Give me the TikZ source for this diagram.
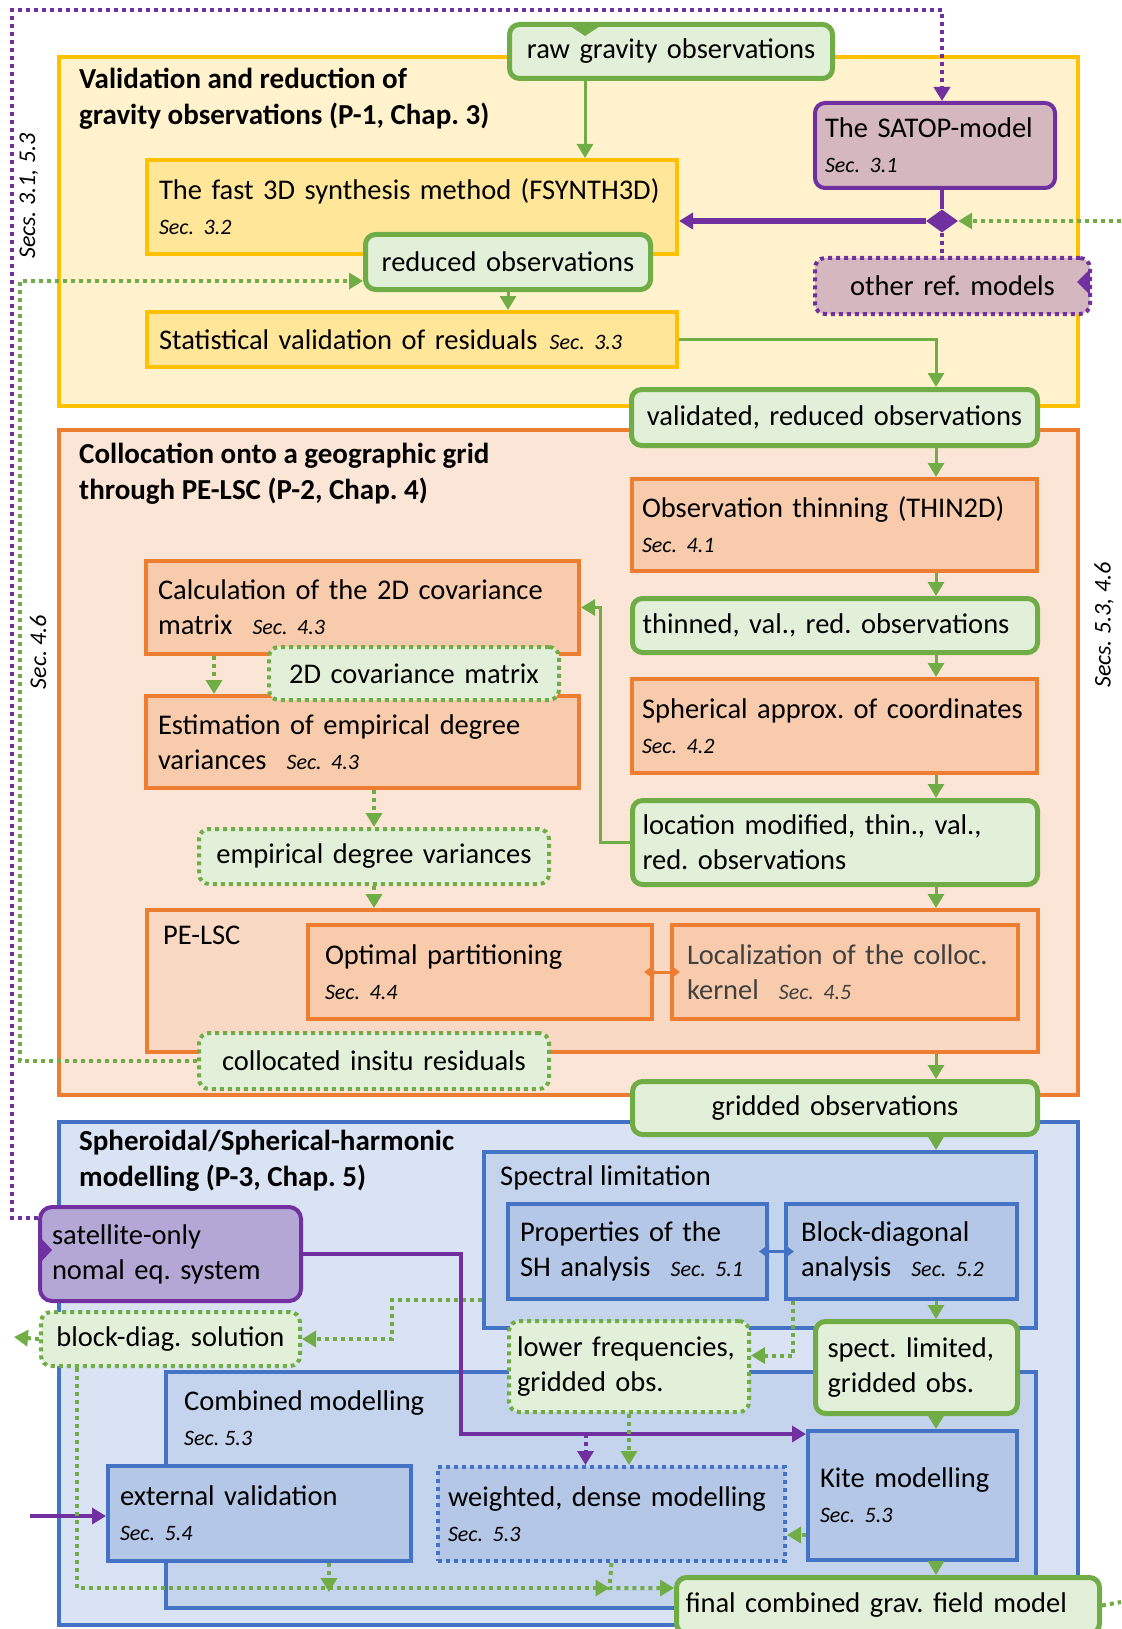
\documentclass[tikz,border=0pt]{standalone}
\usepackage{fontspec}
\setmainfont{Carlito}
\usetikzlibrary{arrows.meta,positioning,shapes.geometric}

\definecolor{grn}{HTML}{70AD47}
\definecolor{grnfill}{HTML}{E2F0D9}
\definecolor{ylw}{HTML}{FFC000}
\definecolor{ylwfill}{HTML}{FFF2CC}
\definecolor{ylwin}{HTML}{FFE699}
\definecolor{org}{HTML}{ED7D31}
\definecolor{orgfill}{HTML}{FBE5D6}
\definecolor{orgmid}{HTML}{F9D9C3}
\definecolor{orgin}{HTML}{F8CBAD}
\definecolor{blu}{HTML}{4472C4}
\definecolor{blufill}{HTML}{DAE3F3}
\definecolor{blumid}{HTML}{C5D4ED}
\definecolor{bluin}{HTML}{B4C7E7}
\definecolor{purp}{HTML}{7030A0}
\definecolor{mauve}{HTML}{D5B7C0}
\definecolor{lav}{HTML}{B4A7D6}
\definecolor{darkgr}{HTML}{404040}

\newcommand{\secnum}[1]{{\fontsize{22}{35}\selectfont\itshape #1}}
\newcommand{\gap}{\hspace{20pt}}

\begin{document}
\frenchspacing
\begin{tikzpicture}[x=1pt, y=-1pt, >={Triangle[width=16pt,length=14pt]},
    font=\fontsize{28.5}{35}\selectfont,
    box/.style={rectangle, draw, line width=4pt, anchor=north west, align=left, inner xsep=12pt, inner ysep=0pt},
    ctr/.style={align=center},
    ybox/.style={box, draw=ylw, fill=ylwin},
    obox/.style={box, draw=org, fill=orgin},
    bbox/.style={box, draw=blu, fill=bluin},
    obs/.style={box, rounded corners=10pt, draw=grn, fill=grnfill, line width=5pt},
    obsdot/.style={obs, line width=4pt, dash pattern=on 4pt off 4pt},
    ref/.style={box, rounded corners=10pt, draw=purp, fill=mauve},
    title/.style={anchor=west, align=left, inner sep=0pt, font=\fontsize{29}{36}\selectfont\bfseries},
    lbl/.style={anchor=west, align=left, inner sep=0pt},
    side/.style={inner sep=0pt, rotate=90, font=\fontsize{24}{24}\selectfont\itshape},
    garr/.style={->, draw=grn, line width=3pt},
    gdot/.style={draw=grn, line width=4pt, dash pattern=on 4pt off 4pt},
    parr/.style={->, draw=purp, line width=4pt},
    pdot/.style={draw=purp, line width=4pt, dash pattern=on 4pt off 4pt},
    both/.style={{Triangle[width=14pt,length=10pt]}-{Triangle[width=14pt,length=10pt]}, line width=3pt}]

    \useasboundingbox (0,0) rectangle (1121,1629);

    % the three parts
    \node[box, draw=ylw, fill=ylwfill, minimum width=1019pt, minimum height=349pt] (valid)   at (57,55)   {};
    \node[box, draw=org, fill=orgfill, minimum width=1019pt, minimum height=665pt] (colloc)  at (57,428)  {};
    \node[box, draw=blu, fill=blufill, minimum width=1019pt, minimum height=503pt] (shmodel) at (57,1120) {};

    \node[title] (tvalid)   at (79,99)   {Validation and reduction of\\gravity observations (P-1, Chap. 3)};
    \node[title] (tcolloc)  at (79,474)  {Collocation onto a geographic grid\\through PE-LSC (P-2, Chap. 4)};
    \node[title] (tshmodel) at (79,1161) {Spheroidal/Spherical-harmonic\\modelling (P-3, Chap. 5)};

    \node[side] (secsA) at (29,196)   {Secs. 3.1, 5.3};
    \node[side] (secsB) at (38,652)   {Sec. 4.6};
    \node[side] (secsC) at (1104,625) {Secs. 5.3, 4.6};

    % sub-groups
    \node[box, draw=org, fill=orgmid, minimum width=891pt, minimum height=142pt] (pelsc)    at (145,908)  {};
    \node[lbl] (pelsclbl) at (163,935) {PE-LSC};
    \node[box, draw=blu, fill=blumid, minimum width=552pt, minimum height=176pt] (spectral) at (482,1150) {};
    \node[lbl] (spectrallbl) at (500,1178) {Spectral limitation};
    \node[box, draw=blu, fill=blumid, minimum width=870pt, minimum height=236pt] (combined) at (164,1370) {};
    \node[lbl] (combinedlbl) at (184,1418) {Combined modelling\\\secnum{Sec. 5.3}};

    % P-1
    \node[obs, ctr, minimum width=323pt, minimum height=54pt, text width=299pt] (raw) at (507,22) {raw gravity observations};
    \node[ref, inner xsep=10pt, minimum width=240pt, minimum height=85pt, text width=220pt] (satop) at (813,101) {The SATOP-model\\\secnum{Sec. 3.1}};
    \node[ybox, minimum width=530pt, minimum height=94pt, text width=506pt] (fsynth) at (145,158) {The fast 3D synthesis method (FSYNTH3D)\\\secnum{Sec. 3.2}};
    \node[obs, ctr, minimum width=285pt, minimum height=55pt, text width=261pt] (reduced) at (363,232) {reduced observations};
    \node[ybox, minimum width=530pt, minimum height=55pt, text width=506pt] (stat) at (145,310) {Statistical validation of residuals\hspace{12pt}\secnum{Sec. 3.3}};
    \node[ref, ctr, dash pattern=on 4pt off 4pt, minimum width=275pt, minimum height=56pt, text width=251pt] (otherref) at (813,256) {other ref. models};
    \node[diamond, fill=purp, minimum width=32pt, minimum height=23pt, inner sep=0pt] (diam) at (942,221) {};
    \node[obs, ctr, inner xsep=10pt, minimum width=406pt, minimum height=56pt, text width=386pt] (validated) at (629,387) {validated, reduced observations};

    % P-2
    \node[obox, inner xsep=10pt, minimum width=405pt, minimum height=92pt, text width=385pt] (thinning) at (630,477) {Observation thinning (THIN2D)\\\secnum{Sec. 4.1}};
    \node[obs, inner xsep=10pt, minimum width=405pt, minimum height=54pt, text width=385pt] (thinned) at (630,596) {thinned, val., red. observations};
    \node[obox, inner xsep=10pt, minimum width=405pt, minimum height=94pt, text width=385pt] (spherical) at (630,677) {Spherical approx. of coordinates\\\secnum{Sec. 4.2}};
    \node[obs, inner xsep=10pt, minimum width=405pt, minimum height=84pt, text width=385pt] (location) at (630,798) {location modified, thin., val.,\\red. observations};
    \node[obox, minimum width=433pt, minimum height=93pt, text width=409pt] (calc) at (144,559) {Calculation of the 2D covariance\\matrix\gap\secnum{Sec. 4.3}};
    \node[obox, minimum width=433pt, minimum height=92pt, text width=409pt] (estim) at (144,694) {Estimation of empirical degree\\variances\gap\secnum{Sec. 4.3}};
    \node[obsdot, ctr, minimum width=290pt, minimum height=53pt, text width=266pt] (covmat) at (267,645) {2D covariance matrix};
    \node[obsdot, ctr, minimum width=350pt, minimum height=55pt, text width=326pt] (empirical) at (197,827) {empirical degree variances};
    \node[obox, inner xsep=17pt, minimum width=344pt, minimum height=94pt, text width=310pt] (optpart) at (306,923) {Optimal partitioning\\\secnum{Sec. 4.4}};
    \node[obox, inner xsep=15pt, text=darkgr, minimum width=346pt, minimum height=94pt, text width=316pt] (localiz) at (670,923) {Localization of the colloc.\\kernel\gap\secnum{Sec. 4.5}};
    \node[obsdot, ctr, minimum width=350pt, minimum height=56pt, text width=326pt] (collocated) at (197,1031) {collocated insitu residuals};
    \node[obs, ctr, minimum width=405pt, minimum height=53pt, text width=381pt] (gridded) at (630,1079) {gridded observations};

    % P-3
    \node[bbox, inner xsep=12pt, minimum width=259pt, minimum height=95pt, text width=235pt] (props) at (506,1202) {Properties of the\\SH analysis\gap\secnum{Sec. 5.1}};
    \node[bbox, inner xsep=15pt, minimum width=231pt, minimum height=95pt, text width=201pt] (blockdiag) at (784,1202) {Block-diagonal\\analysis\gap\secnum{Sec. 5.2}};
    \node[box, rounded corners=12pt, draw=purp, fill=lav, minimum width=261pt, minimum height=94pt, text width=237pt] (satellite) at (38,1205) {satellite-only\\nomal eq. system};
    \node[obsdot, ctr, inner xsep=8pt, minimum width=259pt, minimum height=54pt, text width=243pt] (blocksol) at (39,1310) {block-diag. solution};
    \node[obsdot, inner xsep=8pt, minimum width=240pt, minimum height=91pt, text width=224pt] (lowfreq) at (507,1319) {lower frequencies,\\gridded obs.};
    \node[obs, minimum width=202pt, minimum height=92pt, text width=178pt] (spect) at (813,1319) {spect. limited,\\gridded obs.};
    \node[bbox, minimum width=303pt, minimum height=95pt, text width=279pt] (extval) at (106,1464) {external validation\\\secnum{Sec. 5.4}};
    \node[bbox, inner xsep=10pt, dash pattern=on 4pt off 4pt, minimum width=347pt, minimum height=94pt, text width=327pt] (weighted) at (436,1465) {weighted, dense modelling\\\secnum{Sec. 5.3}};
    \node[bbox, minimum width=209pt, minimum height=129pt, text width=185pt] (kite) at (806,1429) {Kite modelling\\\secnum{Sec. 5.3}};
    \node[obs, inner xsep=9pt, minimum width=423pt, minimum height=56pt, text width=405pt] (final) at (674,1575) {final combined grav. field model};

    % incoming tips sitting on the boxes
    \fill[grn]  (567,24) -- (603,24) -- (585,36) -- cycle;
    \fill[purp] (1090,269) -- (1090,295) -- (1077,282) -- cycle;
    \fill[purp] (40,1237) -- (40,1263) -- (52,1250) -- cycle;

    \coordinate (colA)  at (585,0);
    \coordinate (colR)  at (936,0);
    \coordinate (topL)  at (12,10);
    \coordinate (inR)   at (1121,221);
    \coordinate (outR)  at (1121,1602);
    \coordinate (outL)  at (14,1337);
    \coordinate (inL)   at (30,1516);
    \coordinate (joint) at (609.5,1588);

    % main flow
    \draw[garr] (raw.south -| colA) -- (fsynth.north -| colA);
    \draw[garr] (reduced.south) -- (reduced.south |- stat.north);
    \draw[garr] (stat.east) -| (validated.north -| colR);
    \foreach \a/\b in {validated/thinning, thinning/thinned, thinned/spherical, spherical/location,
                       location/pelsc, pelsc/gridded, gridded/spectral, blockdiag/spect, spect/kite, kite/final}
        \draw[garr] (\a.south -| colR) -- (\b.north -| colR);
    \draw[garr] (location.west) -- ++(-30,0) |- (calc.east);

    % reference models
    \draw[purp, line width=4pt] (satop.south -| diam.north) -- (diam.north);
    \draw[parr, line width=6pt] (diam.west) -- (diam.west -| fsynth.east);
    \draw[pdot] (diam.south) -- (diam.south |- otherref.north);
    \draw[gdot, ->] (inR) -- (diam.east);
    \draw[pdot, ->] ([yshift=-13pt]satellite.north west) -| (topL) -| (satop.north -| diam.north);

    % dotted feedback
    \draw[gdot, ->] ([xshift=70pt]calc.south west) -- ([xshift=70pt]estim.north west);
    \draw[gdot, ->] (estim.south -| empirical.north) -- (empirical.north);
    \draw[gdot, ->] (empirical.south) -- (empirical.south |- pelsc.north);
    \draw[gdot, ->] (collocated.west) -- ++(-177,0) |- ([yshift=11pt]reduced.south west);
    \draw[both, org] ([xshift=-10pt]optpart.east) -- ([xshift=10pt]localiz.west);
    \draw[both, blu] ([xshift=-10pt]props.east) -- ([xshift=10pt]blockdiag.west);

    % SH modelling
    \draw[gdot, ->] ([xshift=9pt]blockdiag.south west) |- ([yshift=11pt]lowfreq.east);
    \draw[gdot, ->] ([yshift=30pt]spectral.south west) -- ++(-90,0) |- (blocksol.east);
    \draw[gdot, ->] (blocksol.west) -- (outL);
    \draw[parr] (satellite.east) -- ++(158,0) |- ([yshift=-5pt]kite.north west);
    \draw[pdot, ->] ([xshift=-26pt, yshift=31pt]weighted.north) -- ([xshift=-26pt]weighted.north);
    \draw[gdot, ->] (lowfreq.south) -- (lowfreq.south |- weighted.north);
    \draw[gdot, ->] ([yshift=27pt]kite.south west) -- ([yshift=28pt]weighted.south east);
    \draw[parr] (inL) -- (inL -| extval.west);
    \draw[gdot, ->] ([xshift=38pt]blocksol.south west) |- (joint);
    \draw[gdot, ->] ([xshift=223pt]extval.south west) -- ++(0,29);
    \draw[gdot, ->] (weighted.south) -- (joint) -- ([yshift=-13pt]final.north west);
    \draw[gdot] (final.east) -- (outR);

\end{tikzpicture}
\end{document}
